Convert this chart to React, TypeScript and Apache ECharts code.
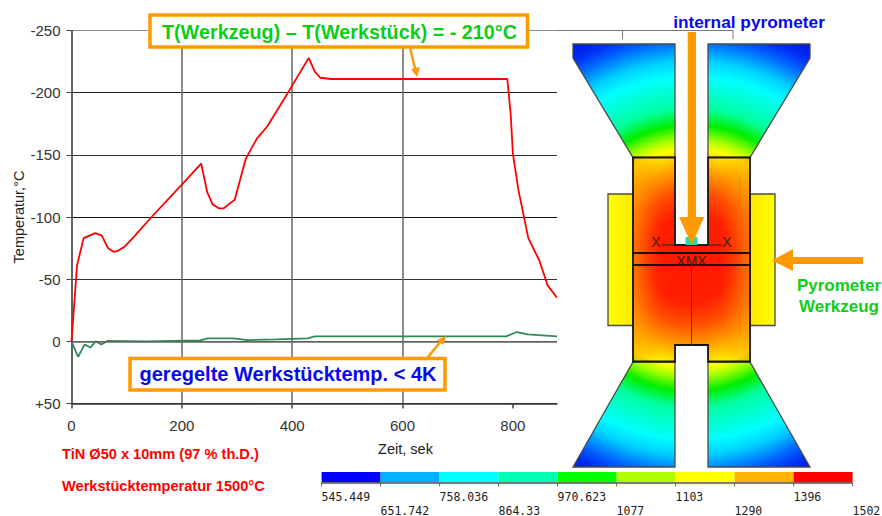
import React, { useEffect, useRef } from "react";
import * as echarts from "echarts";

const redTimes = [0, 5, 10, 22, 43, 55, 66, 76, 85, 96, 113, 143, 200, 235, 246, 256, 267, 276, 296, 316, 336, 355, 391, 430, 441, 451, 470, 530, 608, 790, 796, 800, 810, 828, 848, 863, 880];
const redValues = [0, -30, -61, -83, -87, -85, -75, -72, -73, -76, -84, -99, -126, -143, -120, -110, -107, -107, -114, -147, -163, -173, -199, -228, -217, -212, -211, -211, -211, -211, -183, -151, -122, -83, -65, -45, -35];
const greenTimes = [0, 12, 24, 34, 44, 54, 65, 134, 233, 247, 293, 319, 372, 428, 441, 788, 807, 827, 880];
const greenValues = [0, 12.5, 2.5, 5, 0, 2.5, -0.3, 0, -0.8, -2.4, -2.4, -1, -1.6, -2.4, -4, -4, -7.5, -5.6, -4];
const xTicks = [0, 200, 400, 600, 800];
const scaleUpper = ["545.449", "758.036", "970.623", "1103", "1396"];
const scaleLower = ["651.742", "864.33", "1077", "1290", "1502"];
const scaleColors = ["#0000ff", "#00b2ff", "#00ffff", "#00ffb2", "#00ff00", "#b2ff00", "#ffff00", "#ffb200", "#ff0000"];

const toPairs = (xs: number[], ys: number[]) => xs.map((x, i) => [x, ys[i]]);
const ORANGE = "#ff9900";
const GREEN = "#10cc18";
const BLUE = "#0808f0";
const SANS = "'Liberation Sans', Arial, sans-serif";

function buildGraphics() {
  const heat = () =>
    new echarts.graphic.RadialGradient(691.5, 258, 256, [
      { offset: 0, color: "#ff1800" },
      { offset: 0.175, color: "#ff2000" },
      { offset: 0.26, color: "#ff5000" },
      { offset: 0.345, color: "#ffa000" },
      { offset: 0.41, color: "#ffe800" },
      { offset: 0.425, color: "#ffff00" },
      { offset: 0.46, color: "#b0ff00" },
      { offset: 0.52, color: "#00ee00" },
      { offset: 0.585, color: "#00ffa0" },
      { offset: 0.71, color: "#00ffff" },
      { offset: 0.77, color: "#00d0ff" },
      { offset: 0.815, color: "#0090ff" },
      { offset: 0.85, color: "#0060ff" },
      { offset: 0.895, color: "#0030f0" },
      { offset: 1, color: "#0000d8" },
    ], true);
  const edgeGlow = () =>
    new echarts.graphic.LinearGradient(633, 0, 750, 0, [
      { offset: 0, color: "rgba(255,154,0,0.6)" },
      { offset: 0.24, color: "rgba(255,120,0,0)" },
      { offset: 0.76, color: "rgba(255,120,0,0)" },
      { offset: 1, color: "rgba(255,154,0,0.6)" },
    ], true);
  const poly = (points: number[][], fill: any, stroke = "#4a4a4a", lineWidth = 1.3) => ({
    type: "polygon", silent: true, shape: { points }, style: { fill, stroke, lineWidth },
  });
  const line = (x1: number, y1: number, x2: number, y2: number, stroke: string, lineWidth = 1) => ({
    type: "line", silent: true, shape: { x1, y1, x2, y2 }, style: { stroke, lineWidth },
  });
  const text = (t: string, x: number, y: number, font: string, fill: string, textAlign = "center") => ({
    type: "text", silent: true, x, y, style: { text: t, font, fill, textAlign, textVerticalAlign: "middle" },
  });
  const side = (a: number, b: number) =>
    new echarts.graphic.LinearGradient(a, 0, b, 0, [
      { offset: 0, color: "#ffff00" },
      { offset: 1, color: "#ffe800" },
    ], true);

  const upperBlock = [[633, 157.5], [675, 157.5], [675, 245], [708, 245], [708, 157.5], [750, 157.5], [750, 253], [633, 253]];
  const sample = [[633, 253], [750, 253], [750, 265], [633, 265]];
  const lowerBlock = [[633, 265], [750, 265], [750, 361.5], [708, 361.5], [708, 345], [675, 345], [675, 361.5], [633, 361.5]];

  const els: any[] = [
    // remains of the chart's upper frame running behind the model
    { type: "polyline", silent: true, shape: { points: [[557, 30.5], [733, 30.5], [733, 39]] }, style: { stroke: "#777", lineWidth: 1, fill: "none" } },
    line(622.5, 30.5, 622.5, 39, "#777"),

    // upper and lower die
    poly([[573, 44], [675, 44], [675, 157.5], [633, 157.5], [573, 58]], heat()),
    poly([[708, 44], [810, 44], [810, 58], [750, 157.5], [708, 157.5]], heat()),
    poly([[633, 362], [675, 362], [675, 467], [573, 467]], heat()),
    poly([[708, 362], [750, 362], [810, 467], [708, 467]], heat()),
    // side pieces
    poly([[608, 194], [633, 194], [633, 325.5], [608, 325.5]], side(608, 633)),
    poly([[775, 194], [750, 194], [750, 325.5], [775, 325.5]], side(775, 750)),
    // central blocks
    poly(upperBlock, heat(), "none", 0),
    poly(sample, heat(), "none", 0),
    poly(lowerBlock, heat(), "none", 0),
    poly(upperBlock, edgeGlow(), "#151515", 1.8),
    poly(sample, edgeGlow(), "#151515", 1.8),
    poly(lowerBlock, edgeGlow(), "#151515", 1.8),
    line(691.5, 265, 691.5, 345, "#8a2a00", 1),
    line(662, 245, 722, 245, "#222", 1),
    text("X", 656, 241.5, `14px ${SANS}`, "#402000"),
    text("X", 727, 241.5, `14px ${SANS}`, "#402000"),
    text("XMX", 691.5, 260.5, `14px ${SANS}`, "#402000"),
    { type: "rect", silent: true, shape: { x: 685.5, y: 237, width: 12, height: 8 }, style: { fill: "#28d8a8" } },
    text("x", 691.5, 210, `10px ${SANS}`, "#a8f020"),

    // orange arrows
    poly([[687.7, 32], [696, 32], [696, 217], [704, 217], [691.8, 245], [679, 217], [687.7, 217]], ORANGE, "none", 0),
    poly([[863, 257], [793, 257], [793, 249], [772, 260.5], [793, 271], [793, 264], [863, 264]], ORANGE, "none", 0),
    line(410, 48, 415.5, 70, ORANGE, 2.5),
    poly([[411, 69], [420, 67], [417, 77]], ORANGE, "none", 0),
    line(424, 362, 441, 341, ORANGE, 2.5),
    poly([[437, 340], [443.5, 345], [446, 336]], ORANGE, "none", 0),

    // annotation boxes
    { type: "rect", silent: true, shape: { x: 150, y: 15, width: 377.5, height: 32 }, style: { fill: "#fff", stroke: ORANGE, lineWidth: 3.5 } },
    text("T(Werkzeug) – T(Werkstück) = - 210°C", 339.5, 31.5, `bold 19.8px ${SANS}`, GREEN),
    { type: "rect", silent: true, shape: { x: 130, y: 358.5, width: 315, height: 31.5 }, style: { fill: "#fff", stroke: ORANGE, lineWidth: 3.5 } },
    text("geregelte Werkstücktemp. < 4K", 288, 374, `bold 20px ${SANS}`, BLUE),

    // free texts
    text("internal pyrometer", 749, 22, `bold 17.3px ${SANS}`, BLUE),
    text("Pyrometer", 839, 285, `bold 17px ${SANS}`, GREEN),
    text("Werkzeug", 839, 306.5, `bold 17px ${SANS}`, GREEN),
    text("Zeit, sek", 405.5, 449, `14.5px ${SANS}`, "#222"),
    text("TiN Ø50 x 10mm (97 % th.D.)", 62, 454, `bold 14.6px ${SANS}`, "#ff0000", "left"),
    text("Werkstücktemperatur 1500°C", 62, 486, `bold 14.6px ${SANS}`, "#ff0000", "left"),
  ];

  // colour scale: equal bins, labels alternating between two rows
  const x0 = 321.6;
  const binWidth = 59;
  scaleColors.forEach((c, i) => {
    els.push({ type: "rect", silent: true, shape: { x: x0 + i * binWidth, y: 472, width: binWidth, height: 10.5 }, style: { fill: c } });
  });
  els.push(line(x0, 483, x0 + 9 * binWidth, 483, "#555", 1.5));
  for (let i = 0; i <= 9; i++) els.push(line(x0 + i * binWidth, 483, x0 + i * binWidth, 486.5, "#666", 1));
  const mono = `11.5px 'DejaVu Sans Mono', monospace`;
  scaleUpper.forEach((t, i) => els.push(text(t, x0 + i * 2 * binWidth, 497, mono, "#222", "left")));
  scaleLower.forEach((t, i) => els.push(text(t, x0 + (i * 2 + 1) * binWidth, 510.5, mono, "#222", "left")));
  return els.map((e) => ({ ...e, z: 100 }));
}

export default function App() {
  const ref = useRef<HTMLDivElement>(null);
  useEffect(() => {
    document.body.style.margin = "0";
    const chart = echarts.init(ref.current!, undefined, { renderer: "svg" });
    chart.setOption({
      animation: false,
      backgroundColor: "#fff",
      grid: { left: 71.5, right: 325, top: 30.5, bottom: 112.5, containLabel: false, outerBoundsMode: "none" },
      xAxis: {
        type: "value",
        min: 0,
        max: 880,
        interval: 200,
        axisLine: { onZero: false, lineStyle: { color: "#333", width: 1.5 } },
        axisTick: { length: 5, lineStyle: { color: "#444", width: 1.5 }, customValues: xTicks },
        axisLabel: { color: "#333", fontSize: 15, fontFamily: SANS, margin: 14, customValues: xTicks },
        splitLine: { show: true, showMaxLine: false, lineStyle: { color: "#666", width: 1.5 } },
      },
      yAxis: {
        type: "value",
        inverse: true,
        min: -250,
        max: 50,
        interval: 50,
        name: "Temperatur,°C",
        nameLocation: "middle",
        nameGap: 45,
        nameMoveOverlap: false,
        nameTextStyle: { color: "#222", fontSize: 14.5, fontFamily: SANS },
        axisLine: { show: true, onZero: false, lineStyle: { color: "#555", width: 1.5 } },
        axisTick: { show: true, length: 5, lineStyle: { color: "#444", width: 1 } },
        axisLabel: {
          color: "#333", fontSize: 15, fontFamily: SANS, margin: 11,
          formatter: (v: number) => (v > 0 ? `+${v}` : `${v}`),
        },
        splitLine: { show: true, lineStyle: { color: ["#888", "#222", "#333", "#111", "#333", "#555", "#333"], width: 1 } },
      },
      series: [
        {
          name: "T(Werkstück)",
          type: "line",
          data: toPairs(greenTimes, greenValues),
          symbol: "none",
          lineStyle: { color: "#2e8b57", width: 1.8 },
          markLine: {
            silent: true, symbol: "none", label: { show: false },
            lineStyle: { color: "#666", width: 1.6, type: "solid" },
            data: [{ yAxis: 0 }],
          },
          z: 3,
        },
        {
          name: "T(Werkzeug) – T(Werkstück)",
          type: "line",
          data: toPairs(redTimes, redValues),
          symbol: "none",
          lineStyle: { color: "#ff0000", width: 1.8 },
          z: 4,
        },
      ],
      graphic: { elements: buildGraphics() },
    });
    return () => chart.dispose();
  }, []);
  return <div ref={ref} style={{ position: "absolute", left: 0, top: 0, width: 882, height: 516 }} />;
}
